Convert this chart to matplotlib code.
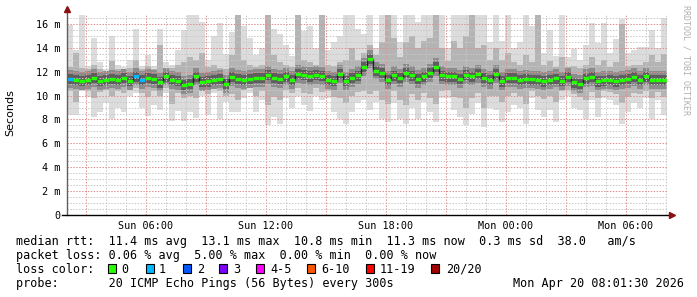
import numpy as np
import matplotlib
matplotlib.use("Agg")
import matplotlib.pyplot as plt
from matplotlib.patches import Rectangle

# 100 bins of 18 minutes, starting Sun 02:03 (hours since Sun 00:00)
t_start = 2.05
bin_h = 0.3

median = [11.4, 11.3, 11.26, 11.34, 11.48, 11.25, 11.3, 11.4, 11.34, 11.5,
          11.26, 11.6, 11.3, 11.48, 11.4, 11.12, 11.6, 11.34, 11.26, 10.9,
          11.0, 11.6, 11.15, 11.2, 11.34, 11.4, 11.0, 11.55, 11.4, 11.34,
          11.4, 11.5, 11.48, 11.75, 11.5, 11.4, 11.6, 11.34, 11.8, 11.75,
          11.62, 11.75, 11.65, 11.34, 11.26, 11.8, 11.26, 11.5, 11.7, 12.4,
          13.1, 12.1, 11.9, 11.3, 11.7, 11.5, 11.9, 11.7, 11.4, 11.6,
          11.9, 12.4, 11.7, 11.6, 11.6, 11.4, 11.75, 11.6, 11.8, 11.5,
          11.34, 11.8, 11.2, 11.5, 11.5, 11.3, 11.4, 11.35, 11.34, 11.2,
          11.34, 11.45, 11.25, 11.55, 11.1, 11.0, 11.45, 11.55, 11.2, 11.28,
          11.34, 11.2, 11.3, 11.42, 11.55, 11.34, 11.6, 11.3, 11.34, 11.34]

# number of lost pings per bin (out of 20)
loss = [1, 0, 0, 0, 0, 0, 0, 0, 0, 0,
        0, 1, 1, 0, 0, 0, 0, 0, 0, 0] + [0] * 80

smoke_hi = [15.9, 13.8, 16.8, 12.5, 14.8, 12.8, 12.2, 15.0, 12.6, 12.4,
            13.0, 15.6, 12.5, 13.4, 12.5, 15.6, 12.8, 12.6, 13.8, 15.5,
            16.8, 16.8, 16.2, 13.0, 15.0, 16.1, 13.5, 15.3, 16.8, 15.8,
            14.8, 13.4, 14.0, 16.8, 15.6, 15.2, 14.2, 13.3, 16.8, 15.4,
            15.8, 14.0, 16.8, 13.8, 14.5, 15.0, 16.8, 16.8, 15.6, 15.2,
            16.8, 14.0, 16.8, 16.8, 16.8, 14.5, 16.8, 16.8, 16.2, 16.8,
            16.8, 16.8, 16.8, 14.0, 16.8, 16.8, 16.8, 16.0, 16.8, 16.8,
            14.5, 16.8, 14.6, 16.8, 14.0, 14.5, 16.8, 15.8, 16.8, 13.6,
            15.5, 13.3, 16.8, 13.2, 13.9, 13.0, 14.2, 16.1, 14.4, 16.1,
            13.6, 14.7, 16.4, 13.6, 13.8, 14.1, 14.1, 15.5, 14.0, 16.5]

smoke_lo = [8.4, 8.4, 10.4, 9.9, 8.2, 8.6, 9.4, 8.0, 9.0, 8.6,
            10.0, 10.2, 9.0, 8.3, 9.2, 8.8, 10.2, 7.9, 8.7, 7.9,
            8.6, 8.1, 10.0, 8.4, 10.2, 8.0, 9.5, 8.6, 8.6, 9.8,
            10.2, 8.6, 9.6, 7.5, 8.2, 7.6, 9.8, 9.0, 10.0, 9.2,
            8.7, 10.0, 9.6, 9.8, 8.6, 8.0, 7.6, 8.6, 9.4, 9.6,
            8.8, 9.5, 8.0, 7.8, 9.4, 8.0, 7.6, 9.0, 8.0, 9.5,
            8.6, 7.8, 9.8, 9.8, 8.8, 8.2, 7.5, 8.5, 9.4, 7.4,
            9.0, 8.8, 7.8, 8.6, 9.2, 9.0, 7.6, 9.8, 8.8, 8.2,
            8.8, 7.8, 9.6, 10.0, 9.0, 8.8, 8.0, 9.6, 8.2, 9.8,
            9.6, 9.2, 7.6, 8.6, 9.4, 9.0, 9.8, 8.0, 9.6, 8.4]

mid_hi = [12.4, 13.6, 12.3, 12.2, 12.6, 12.2, 12.1, 12.9, 12.2, 12.1,
          12.3, 13.0, 12.2, 12.5, 12.2, 14.2, 12.3, 12.3, 12.6, 12.8,
          13.2, 13.0, 13.6, 12.4, 12.6, 12.3, 12.2, 13.4, 16.8, 13.0,
          12.6, 12.4, 12.6, 16.8, 13.4, 12.8, 12.6, 12.4, 16.8, 13.0,
          12.8, 12.6, 16.8, 12.6, 12.5, 12.8, 13.0, 14.0, 13.0, 13.6,
          14.2, 13.4, 14.5, 16.8, 14.8, 13.2, 14.5, 15.0, 14.0, 14.6,
          14.8, 16.8, 14.0, 12.9, 14.6, 14.0, 15.0, 16.8, 14.0, 14.2,
          13.0, 14.0, 13.0, 13.6, 12.8, 12.6, 13.4, 12.8, 16.8, 12.6,
          12.9, 12.4, 13.2, 12.4, 12.5, 12.3, 12.6, 13.2, 12.6, 13.0,
          12.4, 12.8, 16.0, 12.5, 12.6, 12.6, 12.8, 13.4, 12.8, 13.5]

mid_lo = [10.4, 9.5, 10.5, 10.4, 9.8, 10.3, 10.5, 10.0, 10.4, 10.2,
          10.6, 10.6, 10.2, 9.9, 10.4, 10.0, 10.6, 9.3, 10.2, 9.8,
          10.0, 9.8, 10.5, 10.1, 10.6, 10.4, 10.0, 10.1, 9.6, 10.5,
          10.6, 10.0, 10.4, 9.2, 9.9, 9.6, 10.5, 10.2, 10.6, 10.2,
          10.1, 10.6, 10.3, 10.4, 9.9, 9.8, 9.4, 10.0, 10.3, 10.4,
          10.1, 10.4, 9.6, 9.3, 10.4, 9.6, 9.2, 10.1, 9.6, 10.2,
          9.8, 9.3, 10.4, 10.5, 9.9, 9.8, 9.0, 9.8, 10.2, 9.0,
          10.0, 10.0, 9.5, 10.0, 10.2, 10.0, 9.3, 10.4, 10.0, 9.7,
          10.0, 9.5, 10.4, 10.5, 10.1, 9.9, 9.6, 10.3, 9.8, 10.4,
          10.3, 10.1, 9.4, 9.9, 10.2, 10.1, 10.4, 9.8, 10.3, 9.9]

x_labels = ["Sun 06:00", "Sun 12:00", "Sun 18:00", "Mon 00:00", "Mon 06:00"]
loss_labels = ["0", "1", "2", "3", "4-5", "6-10", "11-19", "20/20"]
loss_colors = ["#26ff00", "#00b8ff", "#0059ff", "#7e00ff", "#ff00ff", "#ff5500", "#ff0000", "#a10000"]

W, H = 697, 297
MONO = "DejaVu Sans Mono"

fig = plt.figure(figsize=(W / 100, H / 100), dpi=100)
fig.patch.set_facecolor("white")
ax = fig.add_axes([67 / W, (H - 215) / H, 600 / W, 200 / H])

med = np.array(median)
edges = t_start + bin_h * np.arange(len(med) + 1)

# smoke
ax.stairs(smoke_hi, edges, baseline=smoke_lo, fill=True, color="#dcdcdc", lw=0, zorder=1)
ax.stairs(mid_hi, edges, baseline=mid_lo, fill=True, color="#b4b4b4", lw=0, zorder=1.1)
ax.stairs(med + 0.75, edges, baseline=med - 0.75, fill=True, color="#8c8c8c", lw=0, zorder=1.2)
ax.stairs(med + 0.4, edges, baseline=med - 0.45, fill=True, color="#5e5e5e", lw=0, zorder=1.3)

# median line: dark steps + loss coloured segments
ax.stairs(med, edges, baseline=None, color="#202020", lw=1.0, zorder=4)
seg_colors = [loss_colors[min(l, 1)] for l in loss]
ax.hlines(med, edges[:-1], edges[1:], colors=seg_colors, lw=2.4, zorder=5)

ax.set_xlim(edges[0], edges[-1])
ax.set_ylim(0, 16.75)

hours = np.arange(3, 33, 3)
ax.set_xticks(hours)
ax.set_xticklabels([x_labels[i // 2] if i % 2 == 1 else "" for i in range(len(hours))])
ax.set_xticks(np.arange(3, 33, 1), minor=True)
ax.set_yticks(np.arange(0, 17, 2))
ax.set_yticklabels(["0"] + ["%d m" % v for v in range(2, 17, 2)])
ax.set_yticks(np.arange(0, 16.75, 0.5), minor=True)
ax.tick_params(which="both", length=0)
ax.tick_params(axis="x", pad=4.5, labelsize=7.3)
ax.tick_params(axis="y", pad=5, labelsize=7.3)
for lab in ax.get_xticklabels() + ax.get_yticklabels():
    lab.set_fontfamily(MONO)

ax.set_axisbelow(False)
ax.grid(which="minor", color="#c8c8c8", ls=(0, (1.5, 1.5)), lw=0.7)
ax.grid(which="major", color="#e09090", ls=(0, (1.5, 1.5)), lw=0.7)
for s in ax.spines.values():
    s.set_visible(False)

# axes with arrows
ax.plot([0, 0], [0, 1.03], transform=ax.transAxes, color="#606060", lw=1, clip_on=False, zorder=6)
ax.plot([-0.008, 1.008], [0, 0], transform=ax.transAxes, color="black", lw=1, clip_on=False, zorder=6)
ax.plot([0], [1.03], marker="^", ms=4, color="#8b1010", transform=ax.transAxes, clip_on=False, zorder=7)
ax.plot([1.008], [0], marker=">", ms=4, color="#8b1010", transform=ax.transAxes, clip_on=False, zorder=7)

fig.text(10 / W, 1 - 113 / H, "Seconds", rotation=90, fontsize=8,
         family="DejaVu Sans", ha="center", va="center")
fig.text(686 / W, 1 - 60 / H, "RRDTOOL / TOBI OETIKER", rotation=-90, fontsize=6,
         family=MONO, color="#b0b0b0", ha="center", va="center")


def txt(x, y, s):
    fig.text(x / W, 1 - y / H, s, fontsize=8.45, family=MONO, ha="left", va="baseline")


txt(16, 245.5, "median rtt:  11.4 ms avg  13.1 ms max  10.8 ms min  11.3 ms now  0.3 ms sd  38.0   am/s")
txt(16, 259.3, "packet loss: 0.06 % avg  5.00 % max  0.00 % min  0.00 % now")

txt(16, 273, "loss color:")
sq_x = [108, 145.7, 182.7, 219.3, 256, 306.7, 366, 430.7]
lab_x = [121.7, 159, 196.7, 233, 270.7, 321.7, 380, 446]
for sx, lx, lab, col in zip(sq_x, lab_x, loss_labels, loss_colors):
    fig.add_artist(Rectangle((sx / W, 1 - 273 / H), 8 / W, 9 / H, transform=fig.transFigure,
                             facecolor=col, edgecolor="black", lw=0.8))
    txt(lx, 273, lab)

txt(16, 286.7, "probe:       20 ICMP Echo Pings (56 Bytes) every 300s")
txt(513.3, 286.7, "Mon Apr 20 08:01:30 2026")

fig.savefig("out.png", dpi=100, facecolor="white")
